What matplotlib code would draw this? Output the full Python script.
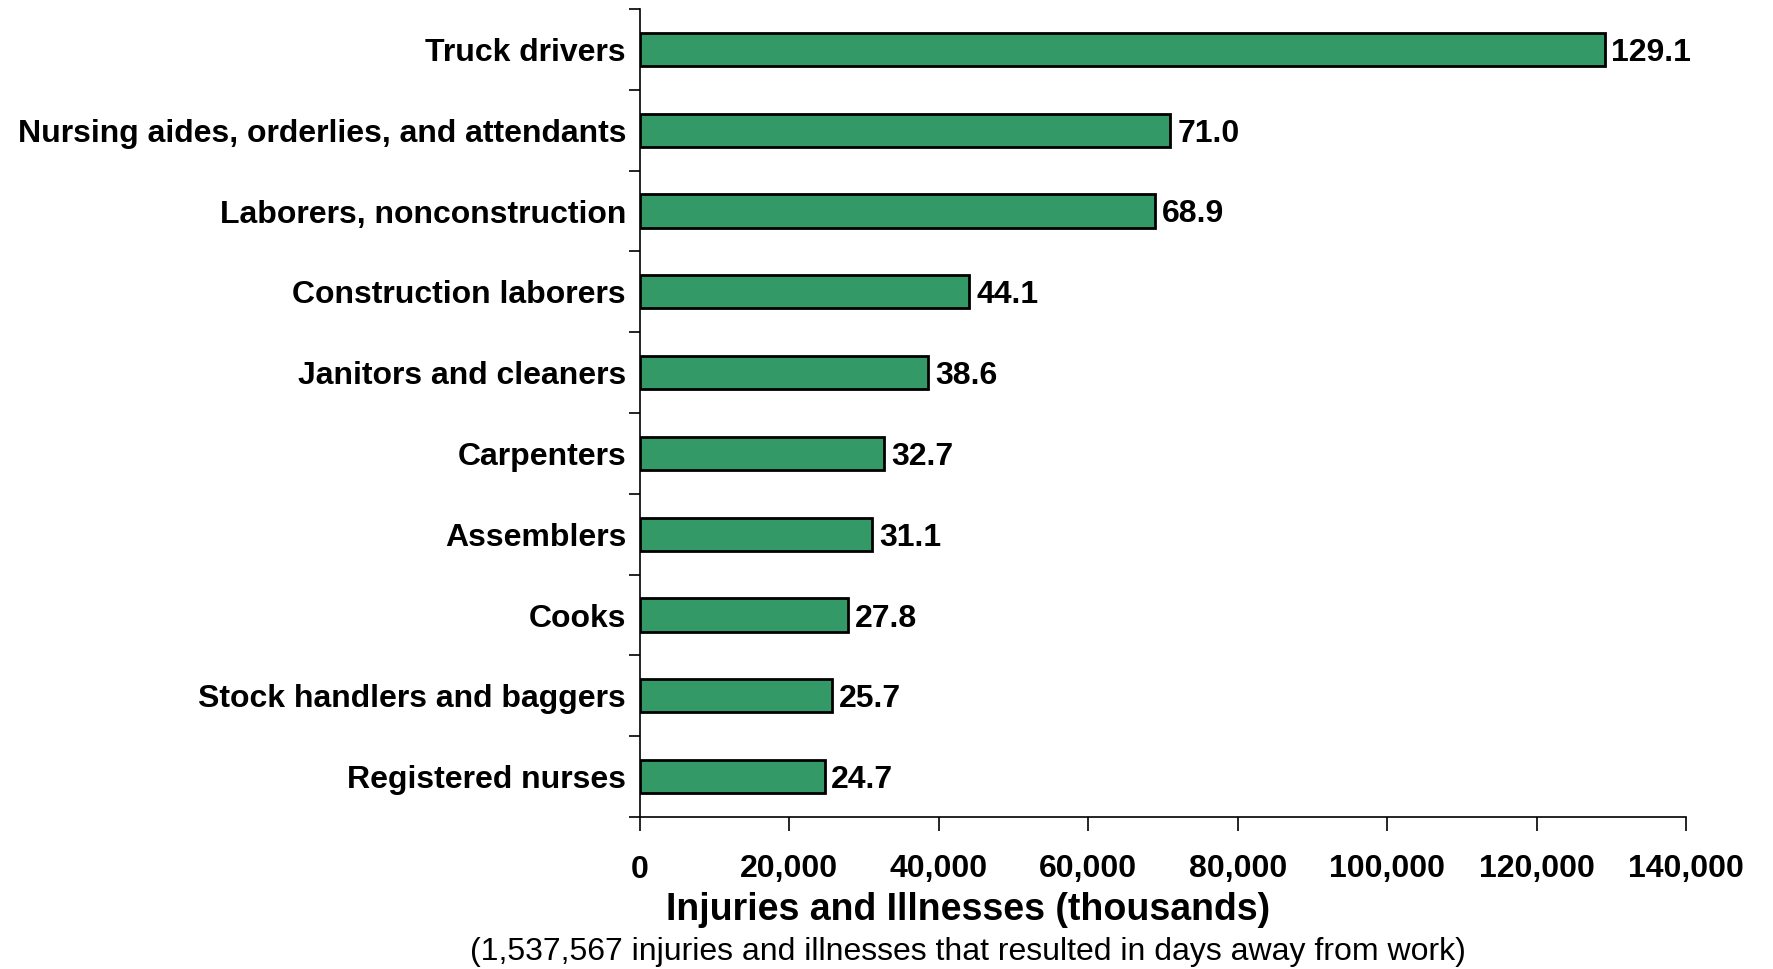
import numpy as np
from matplotlib import pyplot as plt
from matplotlib.ticker import FuncFormatter

ocupacoes = ['Truck drivers', 'Nursing aides, orderlies, and attendants',
             'Laborers, nonconstruction', 'Construction laborers',
             'Janitors and cleaners', 'Carpenters', 'Assemblers', 'Cooks',
             'Stock handlers and baggers', 'Registered nurses']
casos = [129.1, 71.0, 68.9, 44.1, 38.6, 32.7, 31.1, 27.8, 25.7, 24.7]

plt.rcParams['font.family'] = ['Liberation Sans', 'DejaVu Sans']

fig = plt.figure(figsize=(17.73, 9.69), dpi=100)
ax = fig.add_axes([640 / 1773, 1 - 817 / 969, 1046 / 1773, 808 / 969])

y = np.arange(len(ocupacoes))
valores = np.array(casos) * 1000
ax.barh(y, valores, height=0.41, color='#339966', edgecolor='black', linewidth=2)
for yi, v, c in zip(y, valores, casos):
    ax.text(v + 900, yi, f'{c:.1f}', va='center_baseline', ha='left', fontsize=23, fontweight='bold')

ax.set_ylim(len(ocupacoes) - 0.5, -0.5)
ax.set_xlim(0, 140000)
ax.set_yticks(y)
ax.set_yticklabels(ocupacoes, fontsize=23, fontweight='bold')
ax.set_yticks(np.arange(-0.5, len(ocupacoes), 1), minor=True)
ax.tick_params(axis='y', which='major', length=0, pad=10)
ax.tick_params(axis='y', which='minor', length=8, width=1.2, direction='out')
ax.set_xticks(np.arange(0, 140001, 20000))
ax.xaxis.set_major_formatter(FuncFormatter(lambda v, p: f'{v:,.0f}'))
ax.tick_params(axis='x', length=10, width=1.2, direction='out', pad=17, labelsize=23)
for lbl in ax.get_xticklabels():
    lbl.set_fontweight('bold')

ax.spines['top'].set_visible(False)
ax.spines['right'].set_visible(False)
ax.spines['left'].set_linewidth(1.2)
ax.spines['bottom'].set_linewidth(1.2)

fig.text(968 / 1773, 1 - 910 / 969, 'Injuries and Illnesses (thousands)',
         fontsize=27, fontweight='bold', ha='center', va='center')
fig.text(968 / 1773, 1 - 952 / 969,
         '(1,537,567 injuries and illnesses that resulted in days away from work)',
         fontsize=23, ha='center', va='center')

fig.savefig('out.png', dpi=100)
